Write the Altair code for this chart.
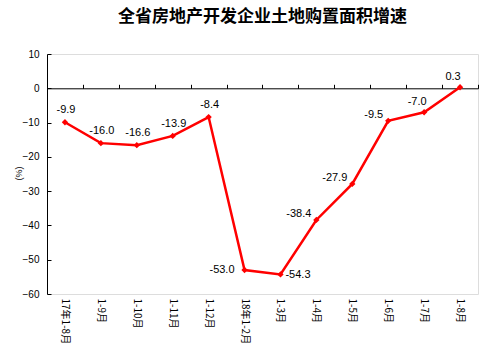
import altair as alt
import pandas as pd

categories = ["17年1-8月", "1-9月", "1-10月", "1-11月", "1-12月", "18年1-2月",
              "1-3月", "1-4月", "1-5月", "1-6月", "1-7月", "1-8月"]
values = [-9.9, -16.0, -16.6, -13.9, -8.4, -53.0, -54.3, -38.4, -27.9, -9.5, -7.0, 0.3]
labels = ["-9.9", "-16.0", "-16.6", "-13.9", "-8.4", "-53.0", "-54.3", "-38.4",
          "-27.9", "-9.5", "-7.0", "0.3"]
y_ticks = [10, 0, -10, -20, -30, -40, -50, -60]

# label placement group for each point (style only)
placement = ["above", "above", "above", "above", "above", "left",
             "right", "upleft", "upleft", "upleft", "aboveleft", "aboveleft"]

df = pd.DataFrame({"cat": categories, "val": values, "lab": labels, "pos": placement})

W, H = 431, 240
RED = "#FF0000"
FONT = "Noto Sans CJK SC"
NUMFONT = "Liberation Sans"

xscale = alt.Scale(type="band", domain=categories, paddingInner=0, paddingOuter=0)
yscale = alt.Scale(domain=[-60, 10], nice=False, zero=False)

x_bottom = alt.X("cat:N", sort=categories, scale=xscale, bandPosition=0.5,
                 axis=alt.Axis(orient="bottom", title=None, domain=False, ticks=False,
                               labelAngle=90, labelFont=FONT, labelFontSize=10,
                               labelColor="black", labelPadding=4, grid=False))
y_left = alt.Y("val:Q", scale=yscale,
               axis=alt.Axis(orient="left", values=y_ticks, title="(%)", domain=True,
                             domainColor="black", ticks=False, labelFont=NUMFONT,
                             labelFontSize=10, labelColor="black", labelPadding=8,
                             grid=False, titleFont=NUMFONT, titleFontSize=9,
                             titleFontWeight="normal", titleColor="black",
                             titleAngle=270, titleX=-29, titleY=119,
                             titleAlign="center", titleBaseline="middle"))

line = alt.Chart(df).mark_line(color=RED, strokeWidth=2.5).encode(x=x_bottom, y=y_left)

x_top = alt.X("cat:N", sort=categories, scale=xscale, bandPosition=0.5,
              axis=alt.Axis(orient="top", offset=-34.3, title=None, labels=False,
                            domain=True, domainColor="black", ticks=True,
                            tickColor="black", tickSize=4, tickBand="extent", grid=False))
y_right = alt.Y("val:Q", scale=yscale,
                axis=alt.Axis(orient="right", offset=-W, values=y_ticks, title=None,
                              labels=False, domain=False, ticks=True, tickColor="black",
                              tickSize=4, grid=False))

points = alt.Chart(df).mark_point(shape="diamond", filled=True, color=RED, size=40,
                                  opacity=1).encode(x=x_top, y=y_right)

def text_layer(group, align, dx, dy):
    return alt.Chart(df).transform_filter(alt.datum.pos == group).mark_text(
        align=align, baseline="middle", dx=dx, dy=dy, font=NUMFONT, fontSize=11,
        color="black").encode(
        x=alt.X("cat:N", sort=categories, scale=xscale, bandPosition=0.5, axis=None),
        y=alt.Y("val:Q", scale=yscale, axis=None),
        text="lab:N")

texts = [
    text_layer("above", "center", 1, -12),
    text_layer("left", "right", -10, 0),
    text_layer("right", "left", 5, 1),
    text_layer("upleft", "right", -5, -6),
    text_layer("aboveleft", "center", -7, -10),
]

chart = alt.layer(line, points, *texts).resolve_axis(
    x="independent", y="independent"
).properties(
    width=W, height=H,
    autosize=alt.AutoSizeParams(type="none"),
    padding={"left": 47, "top": 54, "right": 22, "bottom": 57},
    title=alt.TitleParams("全省房地产开发企业土地购置面积增速", font=FONT, fontSize=17,
                          fontWeight="bold", color="black", anchor="middle",
                          frame="group", offset=23),
).configure_view(stroke=None).configure(background="white")

chart.save("out.html", embed_options={"renderer": "svg", "actions": False})
